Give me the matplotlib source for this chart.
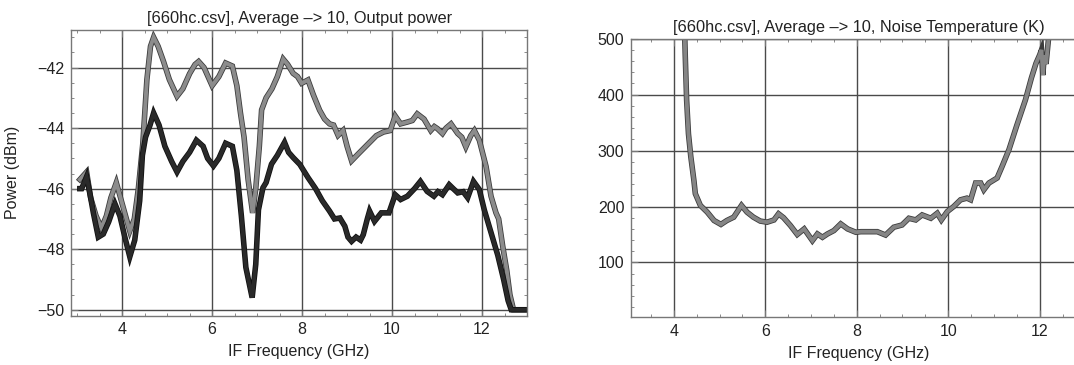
import matplotlib
matplotlib.use("Agg")
import matplotlib.pyplot as plt
import matplotlib.patheffects as pe
from matplotlib.ticker import MultipleLocator

plt.rcParams["font.family"] = ["Liberation Sans", "DejaVu Sans"]

# output power, upper trace (gray)
freq_hi = [3.06, 3.21, 3.30, 3.42, 3.54, 3.65, 3.75, 3.87, 4.02, 4.17, 4.27, 4.36,
           4.46, 4.55, 4.63, 4.70, 4.80, 4.92, 5.05, 5.22, 5.35, 5.50, 5.62, 5.70,
           5.82, 6.00, 6.15, 6.30, 6.45, 6.55, 6.63, 6.71, 6.80, 6.90, 6.97, 7.05,
           7.10, 7.20, 7.33, 7.45, 7.58, 7.68, 7.80, 7.90, 7.99, 8.13, 8.25, 8.39,
           8.50, 8.61, 8.70, 8.80, 8.91, 9.00, 9.10, 9.25, 9.43, 9.51, 9.65, 9.81,
           9.96, 10.07, 10.19, 10.34, 10.45, 10.56, 10.71, 10.86, 10.94, 11.01,
           11.12, 11.20, 11.31, 11.46, 11.55, 11.64, 11.75, 11.83, 11.94, 12.09,
           12.20, 12.31, 12.37, 12.46, 12.55, 12.62, 12.70, 12.95]
power_hi = [-45.7, -45.45, -46.3, -46.9, -47.3, -46.9, -46.3, -45.8, -46.6, -47.4, -47.0, -46.0,
            -44.5, -42.4, -41.3, -41.0, -41.3, -41.8, -42.4, -42.95, -42.7, -42.2, -41.9, -41.8,
            -42.0, -42.6, -42.3, -41.85, -41.95, -42.6, -43.5, -44.3, -45.7, -46.8, -46.0, -44.6,
            -43.4, -43.0, -42.7, -42.3, -41.72, -41.9, -42.19, -42.3, -42.52, -42.41, -42.9, -43.41,
            -43.7, -43.86, -43.9, -44.24, -44.08, -44.6, -45.08, -44.85, -44.58, -44.46, -44.25, -44.13,
            -44.08, -43.6, -43.86, -43.8, -43.75, -43.53, -43.7, -44.08, -43.95, -44.02,
            -44.18, -44.0, -43.86, -44.18, -44.3, -44.62, -44.25, -44.08, -44.4, -45.27,
            -46.25, -46.8, -47.0, -47.9, -48.7, -49.5, -50.0, -50.0]

# output power, lower trace (black)
freq_lo = [3.06, 3.10, 3.21, 3.30, 3.36, 3.47, 3.58, 3.70, 3.84, 3.95, 4.06, 4.17,
           4.28, 4.39, 4.45, 4.52, 4.62, 4.70, 4.82, 4.95, 5.10, 5.22, 5.35, 5.50,
           5.65, 5.80, 5.90, 6.03, 6.15, 6.30, 6.45, 6.55, 6.65, 6.75, 6.89, 6.97,
           7.03, 7.13, 7.20, 7.32, 7.45, 7.61, 7.70, 7.80, 7.95, 8.13, 8.30, 8.45,
           8.61, 8.72, 8.84, 8.95, 9.02, 9.10, 9.20, 9.30, 9.36, 9.45, 9.50, 9.61,
           9.76, 9.93, 10.07, 10.19, 10.34, 10.50, 10.63, 10.78, 10.93, 11.02, 11.12,
           11.27, 11.36, 11.46, 11.58, 11.68, 11.81, 11.94, 12.05, 12.20, 12.35,
           12.48, 12.58, 12.65, 12.95]
power_lo = [-46.0, -46.0, -45.6, -46.3, -46.8, -47.6, -47.5, -47.1, -46.5, -46.9, -47.6, -48.25,
            -47.7, -46.4, -44.9, -44.3, -43.9, -43.5, -43.9, -44.6, -45.1, -45.45, -45.1, -44.8,
            -44.4, -44.6, -45.0, -45.25, -45.0, -44.5, -44.6, -45.4, -46.9, -48.6, -49.6, -48.5,
            -46.7, -45.97, -45.8, -45.19, -44.9, -44.47, -44.8, -44.97, -45.2, -45.63, -46.0, -46.4,
            -46.74, -47.0, -46.97, -47.24, -47.6, -47.74, -47.6, -47.7, -47.52, -47.0, -46.74, -47.08,
            -46.8, -46.8, -46.2, -46.36, -46.25, -46.0, -45.76, -46.09, -46.25, -46.1, -46.2,
            -45.87, -46.0, -46.14, -46.1, -46.3, -45.76, -46.03, -46.7, -47.45, -48.2,
            -49.0, -49.7, -50.0, -50.0]

# noise temperature
freq_nt = [4.22, 4.25, 4.28, 4.32, 4.37, 4.44, 4.47, 4.58, 4.73, 4.88, 5.03, 5.16,
           5.31, 5.48, 5.60, 5.74, 5.89, 6.04, 6.19, 6.29, 6.40, 6.55, 6.70, 6.85,
           7.03, 7.14, 7.25, 7.36, 7.50, 7.65, 7.80, 7.98, 8.09, 8.31, 8.45, 8.63,
           8.81, 8.99, 9.14, 9.29, 9.43, 9.62, 9.76, 9.85, 9.98, 10.12, 10.27, 10.41,
           10.49, 10.60, 10.71, 10.78, 10.89, 11.07, 11.18, 11.33, 11.50, 11.69, 11.82,
           11.92, 12.00, 12.04, 12.07, 12.10, 12.14, 12.20, 12.25]
temp_nt = [560, 470, 390, 330, 290, 246, 223, 202, 190, 175, 168, 175,
           181, 202, 190, 181, 174, 172, 176, 187, 180, 166, 150, 160,
           139, 151, 145, 151, 157, 169, 160, 154, 155, 155, 155, 149,
           163, 167, 179, 176, 185, 179, 188, 176, 191, 200, 212, 215,
           212, 242, 242, 230, 242, 251, 272, 302, 345, 391, 430,
           456, 471, 480, 435, 470, 455, 505, 540]

power_ticks = [-42, -44, -46, -48, -50]
temp_ticks = [100, 200, 300, 400, 500]
freq_ticks = [4, 6, 8, 10, 12]

fig = plt.figure(figsize=(10.74, 3.65), dpi=100)
fig.patch.set_facecolor("white")


def style_axes(ax):
    for s in ax.spines.values():
        s.set_color("#777777")
        s.set_linewidth(1.0)
    ax.grid(True, which="major", color="#4a4a4a", linewidth=1.0)
    ax.set_axisbelow(True)
    ax.tick_params(which="both", direction="in", top=True, right=True,
                   colors="#777777", labelcolor="#222222", labelsize=11.5)
    ax.tick_params(which="major", length=5, pad=5)
    ax.tick_params(which="minor", length=2.5)
    ax.xaxis.set_minor_locator(MultipleLocator(0.5))


def trace(ax, x, y, color, edge):
    ax.plot(x, y, color=color, linewidth=2.8, solid_joinstyle="miter",
            path_effects=[pe.Stroke(linewidth=4.0, foreground=edge), pe.Normal()])


# left panel: output power
ax1 = fig.add_axes([0.0664, 0.1356, 0.4243, 0.7822])
style_axes(ax1)
trace(ax1, freq_hi, power_hi, "#8c8c8c", "#3c3c3c")
trace(ax1, freq_lo, power_lo, "#2a2a2a", "#111111")
ax1.set_xlim(2.87, 13.0)
ax1.set_ylim(-50.19, -40.76)
ax1.set_xticks(freq_ticks)
ax1.set_yticks(power_ticks)
ax1.yaxis.set_minor_locator(MultipleLocator(0.5))
ax1.set_title("[660hc.csv], Average \u2013> 10, Output power", fontsize=11.8, pad=5, color="#222222")
ax1.set_xlabel("IF Frequency (GHz)", fontsize=11.5, labelpad=5, color="#222222")
ax1.set_ylabel("Power (dBm)", fontsize=11.5, labelpad=12, color="#222222")

# right panel: noise temperature
ax2 = fig.add_axes([0.5878, 0.1323, 0.4228, 0.7616])
style_axes(ax2)
trace(ax2, freq_nt, temp_nt, "#858585", "#3c3c3c")
ax2.set_xlim(3.07, 13.0)
ax2.set_ylim(3, 500)
ax2.set_xticks(freq_ticks)
ax2.set_yticks(temp_ticks)
ax2.yaxis.set_minor_locator(MultipleLocator(20))
ax2.set_title("[660hc.csv], Average \u2013> 10, Noise Temperature (K)", fontsize=11.8, pad=5, color="#222222")
ax2.set_xlabel("IF Frequency (GHz)", fontsize=11.5, labelpad=5, color="#222222")

fig.savefig("out.png", dpi=100)
